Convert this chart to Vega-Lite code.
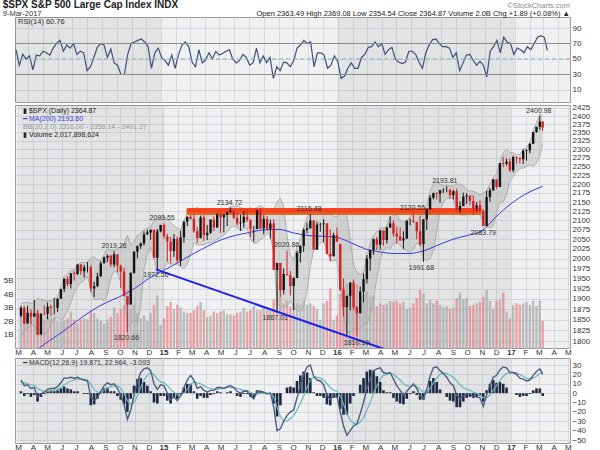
{
"$schema": "https://vega.github.io/schema/vega-lite/v6.json",
"padding": {"left": 2, "top": 0, "right": 2, "bottom": 0},
"background": "#ffffff",
"config": {
  "font": "Liberation Sans",
  "view": {"stroke": "#9a9a9a", "fill": "#f0f0f0"},
  "axis": {"labelFont": "Liberation Sans", "labelFontSize": 8, "labelColor": "#333333", "gridColor": "#d3d8e2", "ticks": false, "domain": false, "labelPadding": 2},
  "axisY": {"labelOverlap": false},
  "concat": {"spacing": 0}
},
"title": {"text": "$SPX S&P 500 Large Cap Index INDX", "subtitle": "9-Mar-2017", "anchor": "start", "frame": "bounds", "fontSize": 10, "fontWeight": "bold", "color": "#222222", "subtitleFontSize": 7.5, "subtitleColor": "#333333", "subtitlePadding": 0, "offset": -16},
"datasets": {
"yr": [{"s": "2014-03-05", "e": "2015-01-01"}, {"s": "2016-01-01", "e": "2017-01-01"}],
"ma": [
{"d":"2014-03-07","ma":1745},{"d":"2014-04-01","ma":1772},{"d":"2014-05-01","ma":1797},{"d":"2014-06-01","ma":1820},{"d":"2014-07-01","ma":1845},{"d":"2014-08-01","ma":1870},{"d":"2014-09-01","ma":1890},{"d":"2014-10-01","ma":1905},{"d":"2014-11-01","ma":1925},{"d":"2014-12-01","ma":1950},
{"d":"2015-01-01","ma":1970},{"d":"2015-02-01","ma":1990},{"d":"2015-03-01","ma":2010},{"d":"2015-04-01","ma":2030},{"d":"2015-05-01","ma":2048},{"d":"2015-06-01","ma":2060},{"d":"2015-07-01","ma":2068},{"d":"2015-08-01","ma":2075},{"d":"2015-09-01","ma":2076},{"d":"2015-10-01","ma":2067},{"d":"2015-11-01","ma":2060},{"d":"2015-12-01","ma":2058},
{"d":"2016-01-01","ma":2055},{"d":"2016-02-01","ma":2040},{"d":"2016-03-01","ma":2025},{"d":"2016-04-01","ma":2017},{"d":"2016-05-01","ma":2013},{"d":"2016-06-01","ma":2013},{"d":"2016-07-01","ma":2020},{"d":"2016-08-01","ma":2035},{"d":"2016-09-01","ma":2050},{"d":"2016-10-01","ma":2060},{"d":"2016-11-01","ma":2072},{"d":"2016-12-01","ma":2110},
{"d":"2017-01-01","ma":2145},{"d":"2017-02-01","ma":2172},{"d":"2017-03-09","ma":2193.6}],
"tl": [{"d": "2014-12-16", "p": 1972.56}, {"d": "2016-06-28", "p": 1752}],
"band": [{"a": "2015-02-19", "b": "2016-10-31", "lo": 2115, "hi": 2134, "lo2": 2121, "hi2": 2133}],
"ann": [
{"d":"2014-09-19","p":2019.26,"t":"2019.26","k":"h"},
{"d":"2014-12-29","p":2093.55,"t":"2093.55","k":"h"},
{"d":"2015-05-20","p":2134.72,"t":"2134.72","k":"h"},
{"d":"2015-09-17","p":2020.86,"t":"2020.86","k":"h"},
{"d":"2015-11-03","p":2116.48,"t":"2116.48","k":"h"},
{"d":"2016-06-08","p":2120.55,"t":"2120.55","k":"h"},
{"d":"2016-08-15","p":2193.81,"t":"2193.81","k":"h"},
{"d":"2017-03-01","p":2400.98,"t":"2400.98","k":"h"},
{"d":"2014-10-15","p":1820.66,"t":"1820.66","k":"l"},
{"d":"2014-12-16","p":1972.56,"t":"1972.56","k":"l"},
{"d":"2015-08-24","p":1867.01,"t":"1867.01","k":"l"},
{"d":"2016-02-11","p":1810.10,"t":"1810.10","k":"l"},
{"d":"2016-06-27","p":1991.68,"t":"1991.68","k":"l"},
{"d":"2016-11-04","p":2083.79,"t":"2083.79","k":"l"}],
"w": [
{"d":"2014-03-07","o":1859,"hi":1883,"lo":1855,"c":1878,"v":2.4,"bu":1890,"bl":1810,"r":62,"m":14,"s":12,"hs":2},
{"d":"2014-03-14","o":1878,"hi":1882,"lo":1839,"c":1841,"v":2.5,"bu":1890,"bl":1825,"r":42,"m":8,"s":11,"hs":-3},
{"d":"2014-03-21","o":1841,"hi":1883,"lo":1840,"c":1866,"v":2.8,"bu":1892,"bl":1830,"r":56,"m":9,"s":10,"hs":-1},
{"d":"2014-03-28","o":1866,"hi":1875,"lo":1839,"c":1857,"v":2.3,"bu":1888,"bl":1835,"r":50,"m":5,"s":9,"hs":-4},
{"d":"2014-04-04","o":1857,"hi":1897,"lo":1857,"c":1865,"v":2.4,"bu":1892,"bl":1838,"r":54,"m":6,"s":8,"hs":-2},
{"d":"2014-04-11","o":1865,"hi":1873,"lo":1814,"c":1815,"v":2.8,"bu":1900,"bl":1815,"r":36,"m":-4,"s":5,"hs":-9},
{"d":"2014-04-18","o":1815,"hi":1865,"lo":1815,"c":1864,"v":2.2,"bu":1898,"bl":1812,"r":55,"m":-1,"s":3,"hs":-4},
{"d":"2014-04-25","o":1864,"hi":1884,"lo":1860,"c":1863,"v":2.1,"bu":1895,"bl":1815,"r":54,"m":1,"s":2,"hs":-1},
{"d":"2014-05-02","o":1863,"hi":1891,"lo":1851,"c":1881,"v":2.3,"bu":1895,"bl":1820,"r":60,"m":4,"s":2,"hs":2},
{"d":"2014-05-09","o":1881,"hi":1885,"lo":1859,"c":1878,"v":2.2,"bu":1895,"bl":1840,"r":58,"m":5,"s":3,"hs":2},
{"d":"2014-05-16","o":1878,"hi":1902,"lo":1862,"c":1878,"v":2.3,"bu":1900,"bl":1850,"r":55,"m":5,"s":3,"hs":2},
{"d":"2014-05-23","o":1878,"hi":1901,"lo":1868,"c":1900,"v":2.0,"bu":1905,"bl":1855,"r":64,"m":7,"s":4,"hs":3},
{"d":"2014-05-30","o":1900,"hi":1924,"lo":1900,"c":1924,"v":2.0,"bu":1930,"bl":1850,"r":70,"m":11,"s":6,"hs":5},
{"d":"2014-06-06","o":1924,"hi":1950,"lo":1916,"c":1949,"v":2.1,"bu":1955,"bl":1855,"r":74,"m":16,"s":9,"hs":7},
{"d":"2014-06-13","o":1949,"hi":1955,"lo":1930,"c":1936,"v":2.2,"bu":1962,"bl":1870,"r":60,"m":16,"s":11,"hs":5},
{"d":"2014-06-20","o":1936,"hi":1963,"lo":1925,"c":1963,"v":2.7,"bu":1970,"bl":1890,"r":68,"m":17,"s":13,"hs":4},
{"d":"2014-06-27","o":1963,"hi":1968,"lo":1944,"c":1961,"v":2.1,"bu":1972,"bl":1915,"r":64,"m":16,"s":14,"hs":2},
{"d":"2014-07-04","o":1961,"hi":1985,"lo":1958,"c":1985,"v":1.8,"bu":1985,"bl":1930,"r":70,"m":17,"s":15,"hs":2},
{"d":"2014-07-11","o":1985,"hi":1986,"lo":1959,"c":1968,"v":2.1,"bu":1990,"bl":1940,"r":56,"m":15,"s":15,"hs":0},
{"d":"2014-07-18","o":1968,"hi":1984,"lo":1952,"c":1978,"v":2.2,"bu":1990,"bl":1945,"r":60,"m":14,"s":15,"hs":-1},
{"d":"2014-07-25","o":1978,"hi":1991,"lo":1965,"c":1978,"v":2.1,"bu":1992,"bl":1955,"r":58,"m":13,"s":14,"hs":-1},
{"d":"2014-08-01","o":1978,"hi":1983,"lo":1916,"c":1925,"v":2.8,"bu":2000,"bl":1925,"r":35,"m":-4,"s":9,"hs":-13},
{"d":"2014-08-08","o":1925,"hi":1942,"lo":1904,"c":1931,"v":2.6,"bu":2005,"bl":1898,"r":40,"m":-8,"s":4,"hs":-12},
{"d":"2014-08-15","o":1931,"hi":1964,"lo":1928,"c":1955,"v":2.2,"bu":1995,"bl":1898,"r":52,"m":-5,"s":1,"hs":-6},
{"d":"2014-08-22","o":1955,"hi":1993,"lo":1955,"c":1988,"v":2.0,"bu":1995,"bl":1900,"r":65,"m":2,"s":1,"hs":1},
{"d":"2014-08-29","o":1988,"hi":2005,"lo":1988,"c":2003,"v":1.8,"bu":2012,"bl":1895,"r":70,"m":8,"s":3,"hs":5},
{"d":"2014-09-05","o":2003,"hi":2011,"lo":1991,"c":2007,"v":2.1,"bu":2025,"bl":1910,"r":68,"m":11,"s":5,"hs":6},
{"d":"2014-09-12","o":2007,"hi":2010,"lo":1979,"c":1985,"v":2.3,"bu":2022,"bl":1950,"r":52,"m":9,"s":7,"hs":2},
{"d":"2014-09-19","o":1985,"hi":2019,"lo":1978,"c":2011,"v":3.0,"bu":2022,"bl":1970,"r":63,"m":10,"s":8,"hs":2},
{"d":"2014-09-26","o":2011,"hi":2011,"lo":1965,"c":1982,"v":2.6,"bu":2025,"bl":1965,"r":45,"m":5,"s":8,"hs":-3},
{"d":"2014-10-03","o":1982,"hi":1985,"lo":1926,"c":1967,"v":2.9,"bu":2030,"bl":1940,"r":42,"m":-2,"s":5,"hs":-7},
{"d":"2014-10-10","o":1967,"hi":1977,"lo":1906,"c":1906,"v":3.2,"bu":2040,"bl":1910,"r":30,"m":-12,"s":0,"hs":-12},
{"d":"2014-10-17","o":1906,"hi":1906,"lo":1820,"c":1886,"v":4.3,"bu":2060,"bl":1830,"r":30,"m":-28,"s":-8,"hs":-20},
{"d":"2014-10-24","o":1886,"hi":1965,"lo":1886,"c":1964,"v":2.9,"bu":2035,"bl":1840,"r":56,"m":-18,"s":-12,"hs":-6},
{"d":"2014-10-31","o":1964,"hi":2018,"lo":1961,"c":2018,"v":3.2,"bu":2045,"bl":1850,"r":70,"m":-2,"s":-10,"hs":8},
{"d":"2014-11-07","o":2018,"hi":2034,"lo":2001,"c":2032,"v":2.6,"bu":2060,"bl":1845,"r":72,"m":12,"s":-3,"hs":15},
{"d":"2014-11-14","o":2032,"hi":2041,"lo":2025,"c":2039,"v":2.2,"bu":2065,"bl":1880,"r":74,"m":22,"s":6,"hs":16},
{"d":"2014-11-21","o":2039,"hi":2071,"lo":2034,"c":2063,"v":2.4,"bu":2075,"bl":1975,"r":76,"m":26,"s":14,"hs":12},
{"d":"2014-11-28","o":2063,"hi":2075,"lo":2062,"c":2068,"v":2.0,"bu":2080,"bl":2010,"r":72,"m":27,"s":19,"hs":8},
{"d":"2014-12-05","o":2068,"hi":2076,"lo":2049,"c":2075,"v":2.6,"bu":2082,"bl":2030,"r":66,"m":24,"s":22,"hs":2},
{"d":"2014-12-12","o":2075,"hi":2075,"lo":2002,"c":2002,"v":3.2,"bu":2100,"bl":2000,"r":38,"m":10,"s":20,"hs":-10},
{"d":"2014-12-19","o":2002,"hi":2077,"lo":1972,"c":2071,"v":3.9,"bu":2105,"bl":1965,"r":58,"m":4,"s":15,"hs":-11},
{"d":"2014-12-26","o":2071,"hi":2088,"lo":2068,"c":2088,"v":1.7,"bu":2110,"bl":1975,"r":64,"m":9,"s":12,"hs":-3},
{"d":"2015-01-02","o":2088,"hi":2093,"lo":2051,"c":2058,"v":2.2,"bu":2110,"bl":1975,"r":52,"m":8,"s":11,"hs":-3},
{"d":"2015-01-09","o":2058,"hi":2064,"lo":1992,"c":2044,"v":3.1,"bu":2105,"bl":1990,"r":48,"m":0,"s":8,"hs":-8},
{"d":"2015-01-16","o":2044,"hi":2056,"lo":1988,"c":2019,"v":3.4,"bu":2095,"bl":1985,"r":42,"m":-7,"s":4,"hs":-11},
{"d":"2015-01-23","o":2019,"hi":2064,"lo":2004,"c":2051,"v":2.9,"bu":2085,"bl":1990,"r":55,"m":-4,"s":1,"hs":-5},
{"d":"2015-01-30","o":2051,"hi":2057,"lo":1989,"c":1995,"v":3.2,"bu":2080,"bl":1985,"r":38,"m":-8,"s":-2,"hs":-6},
{"d":"2015-02-06","o":1995,"hi":2072,"lo":1981,"c":2055,"v":3.0,"bu":2075,"bl":1980,"r":56,"m":-3,"s":-2,"hs":-1},
{"d":"2015-02-13","o":2055,"hi":2097,"lo":2041,"c":2097,"v":2.7,"bu":2100,"bl":1975,"r":68,"m":6,"s":0,"hs":6},
{"d":"2015-02-20","o":2097,"hi":2110,"lo":2085,"c":2110,"v":2.6,"bu":2120,"bl":1985,"r":72,"m":14,"s":4,"hs":10},
{"d":"2015-02-27","o":2110,"hi":2115,"lo":2103,"c":2104,"v":2.6,"bu":2130,"bl":2010,"r":66,"m":19,"s":9,"hs":10},
{"d":"2015-03-06","o":2104,"hi":2117,"lo":2067,"c":2071,"v":2.8,"bu":2130,"bl":2040,"r":46,"m":14,"s":12,"hs":2},
{"d":"2015-03-13","o":2071,"hi":2083,"lo":2040,"c":2053,"v":3.1,"bu":2135,"bl":2035,"r":40,"m":5,"s":11,"hs":-6},
{"d":"2015-03-20","o":2053,"hi":2113,"lo":2053,"c":2108,"v":3.4,"bu":2130,"bl":2035,"r":62,"m":7,"s":10,"hs":-3},
{"d":"2015-03-27","o":2108,"hi":2114,"lo":2045,"c":2061,"v":2.8,"bu":2125,"bl":2035,"r":45,"m":3,"s":8,"hs":-5},
{"d":"2015-04-03","o":2061,"hi":2088,"lo":2048,"c":2067,"v":2.3,"bu":2120,"bl":2040,"r":49,"m":1,"s":6,"hs":-5},
{"d":"2015-04-10","o":2067,"hi":2103,"lo":2064,"c":2102,"v":2.4,"bu":2120,"bl":2040,"r":58,"m":3,"s":5,"hs":-2},
{"d":"2015-04-17","o":2102,"hi":2111,"lo":2072,"c":2081,"v":2.7,"bu":2115,"bl":2045,"r":50,"m":3,"s":4,"hs":-1},
{"d":"2015-04-24","o":2081,"hi":2120,"lo":2081,"c":2117,"v":2.6,"bu":2125,"bl":2050,"r":60,"m":6,"s":4,"hs":2},
{"d":"2015-05-01","o":2117,"hi":2125,"lo":2067,"c":2108,"v":2.7,"bu":2130,"bl":2055,"r":55,"m":6,"s":5,"hs":1},
{"d":"2015-05-08","o":2108,"hi":2117,"lo":2068,"c":2116,"v":2.8,"bu":2130,"bl":2060,"r":57,"m":5,"s":5,"hs":0},
{"d":"2015-05-15","o":2116,"hi":2123,"lo":2085,"c":2123,"v":2.5,"bu":2130,"bl":2070,"r":60,"m":7,"s":6,"hs":1},
{"d":"2015-05-22","o":2123,"hi":2135,"lo":2120,"c":2126,"v":2.5,"bu":2138,"bl":2080,"r":62,"m":8,"s":6,"hs":2},
{"d":"2015-05-29","o":2126,"hi":2127,"lo":2104,"c":2107,"v":2.4,"bu":2138,"bl":2085,"r":50,"m":6,"s":6,"hs":0},
{"d":"2015-06-05","o":2107,"hi":2121,"lo":2086,"c":2092,"v":2.6,"bu":2140,"bl":2080,"r":45,"m":2,"s":5,"hs":-3},
{"d":"2015-06-12","o":2092,"hi":2115,"lo":2072,"c":2094,"v":2.7,"bu":2135,"bl":2075,"r":48,"m":0,"s":4,"hs":-4},
{"d":"2015-06-19","o":2094,"hi":2126,"lo":2081,"c":2110,"v":3.0,"bu":2130,"bl":2078,"r":56,"m":2,"s":3,"hs":-1},
{"d":"2015-06-26","o":2110,"hi":2130,"lo":2096,"c":2102,"v":2.7,"bu":2130,"bl":2080,"r":52,"m":2,"s":3,"hs":-1},
{"d":"2015-07-03","o":2102,"hi":2102,"lo":2056,"c":2077,"v":2.8,"bu":2135,"bl":2050,"r":42,"m":-3,"s":1,"hs":-4},
{"d":"2015-07-10","o":2077,"hi":2085,"lo":2044,"c":2077,"v":3.1,"bu":2130,"bl":2040,"r":45,"m":-6,"s":-1,"hs":-5},
{"d":"2015-07-17","o":2077,"hi":2129,"lo":2077,"c":2127,"v":2.8,"bu":2135,"bl":2040,"r":64,"m":2,"s":-1,"hs":3},
{"d":"2015-07-24","o":2127,"hi":2132,"lo":2077,"c":2079,"v":2.8,"bu":2140,"bl":2050,"r":45,"m":2,"s":0,"hs":2},
{"d":"2015-07-31","o":2079,"hi":2114,"lo":2063,"c":2104,"v":3.0,"bu":2135,"bl":2055,"r":54,"m":1,"s":0,"hs":1},
{"d":"2015-08-07","o":2104,"hi":2112,"lo":2073,"c":2078,"v":2.8,"bu":2125,"bl":2065,"r":45,"m":-1,"s":0,"hs":-1},
{"d":"2015-08-14","o":2078,"hi":2102,"lo":2052,"c":2092,"v":2.8,"bu":2120,"bl":2060,"r":52,"m":0,"s":0,"hs":0},
{"d":"2015-08-21","o":2092,"hi":2103,"lo":1971,"c":1971,"v":3.6,"bu":2130,"bl":2015,"r":25,"m":-15,"s":-4,"hs":-11},
{"d":"2015-08-28","o":1971,"hi":1989,"lo":1867,"c":1989,"v":4.6,"bu":2150,"bl":1890,"r":40,"m":-40,"s":-15,"hs":-25},
{"d":"2015-09-04","o":1989,"hi":1989,"lo":1903,"c":1921,"v":3.7,"bu":2160,"bl":1880,"r":35,"m":-38,"s":-25,"hs":-13},
{"d":"2015-09-11","o":1921,"hi":1975,"lo":1910,"c":1961,"v":3.3,"bu":2140,"bl":1880,"r":46,"m":-30,"s":-30,"hs":0},
{"d":"2015-09-18","o":1961,"hi":2021,"lo":1958,"c":1958,"v":3.5,"bu":2060,"bl":1880,"r":45,"m":-24,"s":-30,"hs":6},
{"d":"2015-09-25","o":1958,"hi":1969,"lo":1908,"c":1931,"v":3.1,"bu":2010,"bl":1895,"r":40,"m":-20,"s":-27,"hs":7},
{"d":"2015-10-02","o":1931,"hi":1953,"lo":1872,"c":1951,"v":3.3,"bu":1995,"bl":1880,"r":48,"m":-18,"s":-24,"hs":6},
{"d":"2015-10-09","o":1951,"hi":2020,"lo":1951,"c":2015,"v":3.3,"bu":2030,"bl":1870,"r":64,"m":-5,"s":-18,"hs":13},
{"d":"2015-10-16","o":2015,"hi":2034,"lo":1990,"c":2033,"v":3.2,"bu":2050,"bl":1870,"r":68,"m":8,"s":-11,"hs":19},
{"d":"2015-10-23","o":2033,"hi":2079,"lo":2017,"c":2075,"v":3.5,"bu":2080,"bl":1880,"r":74,"m":20,"s":-3,"hs":23},
{"d":"2015-10-30","o":2075,"hi":2094,"lo":2066,"c":2079,"v":3.2,"bu":2110,"bl":1920,"r":70,"m":28,"s":6,"hs":22},
{"d":"2015-11-06","o":2079,"hi":2117,"lo":2078,"c":2100,"v":3.3,"bu":2120,"bl":1980,"r":72,"m":30,"s":14,"hs":16},
{"d":"2015-11-13","o":2100,"hi":2100,"lo":2023,"c":2023,"v":3.1,"bu":2125,"bl":2020,"r":40,"m":18,"s":17,"hs":1},
{"d":"2015-11-20","o":2023,"hi":2097,"lo":2023,"c":2089,"v":2.9,"bu":2125,"bl":2030,"r":58,"m":14,"s":17,"hs":-3},
{"d":"2015-11-27","o":2089,"hi":2094,"lo":2070,"c":2090,"v":2.1,"bu":2120,"bl":2040,"r":58,"m":13,"s":16,"hs":-3},
{"d":"2015-12-04","o":2090,"hi":2104,"lo":2042,"c":2092,"v":3.3,"bu":2115,"bl":2045,"r":55,"m":9,"s":14,"hs":-5},
{"d":"2015-12-11","o":2092,"hi":2093,"lo":2011,"c":2012,"v":3.5,"bu":2120,"bl":2020,"r":38,"m":-2,"s":10,"hs":-12},
{"d":"2015-12-18","o":2012,"hi":2076,"lo":1993,"c":2006,"v":4.4,"bu":2125,"bl":1995,"r":42,"m":-7,"s":6,"hs":-13},
{"d":"2015-12-25","o":2006,"hi":2067,"lo":2006,"c":2061,"v":2.1,"bu":2110,"bl":1995,"r":54,"m":-2,"s":3,"hs":-5},
{"d":"2016-01-01","o":2061,"hi":2081,"lo":2044,"c":2044,"v":2.4,"bu":2110,"bl":1995,"r":47,"m":-3,"s":2,"hs":-5},
{"d":"2016-01-08","o":2038,"hi":2038,"lo":1918,"c":1922,"v":4.0,"bu":2120,"bl":1940,"r":25,"m":-20,"s":-3,"hs":-17},
{"d":"2016-01-15","o":1922,"hi":1950,"lo":1857,"c":1880,"v":4.5,"bu":2130,"bl":1860,"r":28,"m":-35,"s":-12,"hs":-23},
{"d":"2016-01-22","o":1880,"hi":1908,"lo":1812,"c":1907,"v":4.8,"bu":2115,"bl":1820,"r":38,"m":-45,"s":-22,"hs":-23},
{"d":"2016-01-29","o":1907,"hi":1940,"lo":1872,"c":1940,"v":4.3,"bu":2050,"bl":1820,"r":45,"m":-40,"s":-29,"hs":-11},
{"d":"2016-02-05","o":1940,"hi":1947,"lo":1872,"c":1880,"v":4.4,"bu":1985,"bl":1830,"r":38,"m":-35,"s":-32,"hs":-3},
{"d":"2016-02-12","o":1880,"hi":1882,"lo":1810,"c":1865,"v":4.7,"bu":1965,"bl":1825,"r":38,"m":-33,"s":-33,"hs":0},
{"d":"2016-02-19","o":1865,"hi":1930,"lo":1865,"c":1918,"v":3.9,"bu":1960,"bl":1830,"r":52,"m":-22,"s":-31,"hs":9},
{"d":"2016-02-26","o":1918,"hi":1962,"lo":1891,"c":1948,"v":3.9,"bu":1965,"bl":1840,"r":56,"m":-10,"s":-26,"hs":16},
{"d":"2016-03-04","o":1948,"hi":2009,"lo":1937,"c":2000,"v":4.2,"bu":2005,"bl":1840,"r":65,"m":5,"s":-18,"hs":23},
{"d":"2016-03-11","o":2000,"hi":2022,"lo":1969,"c":2022,"v":3.8,"bu":2040,"bl":1860,"r":66,"m":15,"s":-10,"hs":25},
{"d":"2016-03-18","o":2022,"hi":2052,"lo":2010,"c":2050,"v":3.9,"bu":2060,"bl":1900,"r":72,"m":24,"s":0,"hs":24},
{"d":"2016-03-25","o":2050,"hi":2056,"lo":2022,"c":2036,"v":3.1,"bu":2070,"bl":1950,"r":66,"m":26,"s":8,"hs":18},
{"d":"2016-04-01","o":2036,"hi":2075,"lo":2023,"c":2073,"v":3.3,"bu":2080,"bl":2000,"r":70,"m":27,"s":15,"hs":12},
{"d":"2016-04-08","o":2073,"hi":2073,"lo":2033,"c":2048,"v":3.2,"bu":2080,"bl":2020,"r":56,"m":22,"s":19,"hs":3},
{"d":"2016-04-15","o":2048,"hi":2083,"lo":2039,"c":2081,"v":3.3,"bu":2085,"bl":2030,"r":62,"m":21,"s":20,"hs":1},
{"d":"2016-04-22","o":2081,"hi":2111,"lo":2080,"c":2092,"v":3.5,"bu":2110,"bl":2025,"r":65,"m":22,"s":21,"hs":1},
{"d":"2016-04-29","o":2092,"hi":2100,"lo":2057,"c":2065,"v":3.4,"bu":2115,"bl":2040,"r":50,"m":15,"s":20,"hs":-5},
{"d":"2016-05-06","o":2065,"hi":2084,"lo":2039,"c":2057,"v":3.5,"bu":2115,"bl":2040,"r":46,"m":8,"s":17,"hs":-9},
{"d":"2016-05-13","o":2057,"hi":2081,"lo":2046,"c":2047,"v":3.3,"bu":2100,"bl":2035,"r":44,"m":3,"s":14,"hs":-11},
{"d":"2016-05-20","o":2047,"hi":2071,"lo":2025,"c":2052,"v":3.4,"bu":2095,"bl":2025,"r":46,"m":-2,"s":10,"hs":-12},
{"d":"2016-05-27","o":2052,"hi":2100,"lo":2052,"c":2099,"v":2.9,"bu":2100,"bl":2020,"r":60,"m":2,"s":8,"hs":-6},
{"d":"2016-06-03","o":2099,"hi":2105,"lo":2087,"c":2099,"v":3.0,"bu":2110,"bl":2015,"r":60,"m":6,"s":7,"hs":-1},
{"d":"2016-06-10","o":2099,"hi":2121,"lo":2094,"c":2096,"v":3.3,"bu":2120,"bl":2025,"r":56,"m":10,"s":8,"hs":2},
{"d":"2016-06-17","o":2096,"hi":2096,"lo":2050,"c":2071,"v":3.7,"bu":2125,"bl":2040,"r":46,"m":5,"s":7,"hs":-2},
{"d":"2016-06-24","o":2071,"hi":2113,"lo":2032,"c":2037,"v":4.3,"bu":2125,"bl":2035,"r":38,"m":-3,"s":4,"hs":-7},
{"d":"2016-07-01","o":2037,"hi":2103,"lo":1992,"c":2103,"v":4.0,"bu":2130,"bl":2000,"r":58,"m":-6,"s":1,"hs":-7},
{"d":"2016-07-08","o":2103,"hi":2132,"lo":2075,"c":2130,"v":3.3,"bu":2140,"bl":1995,"r":68,"m":4,"s":1,"hs":3},
{"d":"2016-07-15","o":2130,"hi":2169,"lo":2130,"c":2162,"v":3.6,"bu":2180,"bl":2000,"r":75,"m":18,"s":5,"hs":13},
{"d":"2016-07-22","o":2162,"hi":2176,"lo":2157,"c":2175,"v":3.3,"bu":2200,"bl":2020,"r":76,"m":27,"s":11,"hs":16},
{"d":"2016-07-29","o":2175,"hi":2177,"lo":2157,"c":2173,"v":3.5,"bu":2210,"bl":2070,"r":70,"m":28,"s":16,"hs":12},
{"d":"2016-08-05","o":2173,"hi":2183,"lo":2148,"c":2183,"v":3.2,"bu":2200,"bl":2125,"r":66,"m":24,"s":20,"hs":4},
{"d":"2016-08-12","o":2183,"hi":2188,"lo":2175,"c":2184,"v":3.0,"bu":2195,"bl":2150,"r":66,"m":21,"s":21,"hs":0},
{"d":"2016-08-19","o":2184,"hi":2194,"lo":2177,"c":2184,"v":3.1,"bu":2198,"bl":2160,"r":64,"m":17,"s":21,"hs":-4},
{"d":"2016-08-26","o":2184,"hi":2187,"lo":2160,"c":2169,"v":2.9,"bu":2195,"bl":2160,"r":52,"m":11,"s":19,"hs":-8},
{"d":"2016-09-02","o":2169,"hi":2184,"lo":2157,"c":2180,"v":3.0,"bu":2195,"bl":2160,"r":58,"m":8,"s":17,"hs":-9},
{"d":"2016-09-09","o":2180,"hi":2187,"lo":2127,"c":2128,"v":3.7,"bu":2200,"bl":2130,"r":35,"m":-2,"s":13,"hs":-15},
{"d":"2016-09-16","o":2128,"hi":2152,"lo":2120,"c":2139,"v":4.1,"bu":2200,"bl":2115,"r":45,"m":-6,"s":9,"hs":-15},
{"d":"2016-09-23","o":2139,"hi":2176,"lo":2139,"c":2165,"v":3.6,"bu":2195,"bl":2115,"r":55,"m":-3,"s":6,"hs":-9},
{"d":"2016-09-30","o":2165,"hi":2175,"lo":2145,"c":2168,"v":3.7,"bu":2185,"bl":2115,"r":56,"m":-1,"s":4,"hs":-5},
{"d":"2016-10-07","o":2168,"hi":2169,"lo":2142,"c":2153,"v":3.1,"bu":2180,"bl":2125,"r":48,"m":-1,"s":3,"hs":-4},
{"d":"2016-10-14","o":2153,"hi":2169,"lo":2115,"c":2133,"v":3.2,"bu":2180,"bl":2125,"r":42,"m":-4,"s":1,"hs":-5},
{"d":"2016-10-21","o":2133,"hi":2150,"lo":2124,"c":2141,"v":3.3,"bu":2175,"bl":2125,"r":47,"m":-4,"s":0,"hs":-4},
{"d":"2016-10-28","o":2141,"hi":2155,"lo":2125,"c":2126,"v":3.4,"bu":2170,"bl":2120,"r":42,"m":-5,"s":-2,"hs":-3},
{"d":"2016-11-04","o":2126,"hi":2131,"lo":2084,"c":2085,"v":3.8,"bu":2175,"bl":2090,"r":27,"m":-14,"s":-5,"hs":-9},
{"d":"2016-11-11","o":2085,"hi":2182,"lo":2085,"c":2164,"v":4.3,"bu":2180,"bl":2085,"r":60,"m":-2,"s":-5,"hs":3},
{"d":"2016-11-18","o":2164,"hi":2189,"lo":2151,"c":2182,"v":3.5,"bu":2200,"bl":2080,"r":66,"m":8,"s":-2,"hs":10},
{"d":"2016-11-25","o":2182,"hi":2214,"lo":2182,"c":2213,"v":2.9,"bu":2220,"bl":2085,"r":74,"m":17,"s":3,"hs":14},
{"d":"2016-12-02","o":2213,"hi":2214,"lo":2187,"c":2192,"v":3.5,"bu":2230,"bl":2120,"r":58,"m":19,"s":8,"hs":11},
{"d":"2016-12-09","o":2192,"hi":2260,"lo":2192,"c":2260,"v":3.6,"bu":2260,"bl":2150,"r":78,"m":25,"s":13,"hs":12},
{"d":"2016-12-16","o":2260,"hi":2278,"lo":2248,"c":2258,"v":4.1,"bu":2290,"bl":2150,"r":72,"m":28,"s":18,"hs":10},
{"d":"2016-12-23","o":2258,"hi":2273,"lo":2253,"c":2264,"v":2.7,"bu":2300,"bl":2170,"r":70,"m":27,"s":21,"hs":6},
{"d":"2016-12-30","o":2264,"hi":2273,"lo":2234,"c":2239,"v":2.2,"bu":2290,"bl":2210,"r":56,"m":22,"s":22,"hs":0},
{"d":"2017-01-06","o":2239,"hi":2282,"lo":2233,"c":2277,"v":3.2,"bu":2290,"bl":2220,"r":64,"m":22,"s":22,"hs":0},
{"d":"2017-01-13","o":2277,"hi":2279,"lo":2258,"c":2275,"v":3.3,"bu":2285,"bl":2235,"r":62,"m":20,"s":22,"hs":-2},
{"d":"2017-01-20","o":2275,"hi":2276,"lo":2259,"c":2271,"v":3.2,"bu":2285,"bl":2245,"r":58,"m":16,"s":20,"hs":-4},
{"d":"2017-01-27","o":2271,"hi":2300,"lo":2257,"c":2295,"v":3.3,"bu":2300,"bl":2245,"r":66,"m":15,"s":18,"hs":-3},
{"d":"2017-02-03","o":2295,"hi":2300,"lo":2267,"c":2297,"v":3.4,"bu":2305,"bl":2250,"r":62,"m":13,"s":16,"hs":-3},
{"d":"2017-02-10","o":2297,"hi":2319,"lo":2288,"c":2316,"v":3.2,"bu":2320,"bl":2255,"r":70,"m":14,"s":15,"hs":-1},
{"d":"2017-02-17","o":2316,"hi":2352,"lo":2316,"c":2351,"v":3.5,"bu":2355,"bl":2250,"r":78,"m":19,"s":16,"hs":3},
{"d":"2017-02-24","o":2351,"hi":2367,"lo":2349,"c":2367,"v":3.1,"bu":2380,"bl":2260,"r":80,"m":23,"s":18,"hs":5},
{"d":"2017-03-03","o":2367,"hi":2401,"lo":2358,"c":2383,"v":3.5,"bu":2405,"bl":2280,"r":78,"m":26,"s":21,"hs":5},
{"d":"2017-03-09","o":2383,"hi":2383,"lo":2354,"c":2365,"v":2.0,"bu":2401,"bl":2316,"r":61,"m":20,"s":23,"hs":-3}
]
},
"vconcat": [
{
  "width": 555, "height": 85,
  "title": {"text": "©StockCharts.com", "subtitle": "Open 2363.49  High 2369.08  Low 2354.54  Close 2364.87  Volume 2.0B  Chg +1.89 (+0.08%) ▲", "anchor": "end", "frame": "group", "fontSize": 7.5, "fontWeight": "normal", "color": "#888888", "subtitleFontSize": 7.5, "subtitleColor": "#222222", "subtitlePadding": 0, "offset": 0},
  "layer": [
    {"data": {"name": "yr"}, "mark": {"type": "rect", "fill": "#000000", "opacity": 0.05},
     "encoding": {
       "x": {"field": "s", "type": "temporal", "title": null, "scale": {"domain": [{"year": 2014, "month": 3, "date": 5}, {"year": 2017, "month": 4, "date": 25}], "nice": false},
             "axis": {"title": null, "labels": false, "ticks": false, "domain": false, "grid": true, "tickCount": {"interval": "month", "step": 1}}},
       "x2": {"field": "e"}}},
    {"data": {"name": "w"}, "mark": {"type": "line", "color": "#3f4f7a", "strokeWidth": 1.2},
     "encoding": {"x": {"field": "d", "type": "temporal", "title": null},
       "y": {"field": "r", "type": "quantitative", "title": null, "scale": {"domain": [-5.5, 104.2], "nice": false, "zero": false},
         "axis": {"orient": "right", "values": [10, 30, 50, 70, 90], "labelOverlap": false, "labelBound": false, "grid": true, "title": null}}}},
    {"data": {"values": [{"k": 70}, {"k": 30}]}, "mark": {"type": "rule", "color": "#8c8c8c", "strokeWidth": 1},
     "encoding": {"y": {"field": "k", "type": "quantitative", "title": null,
       "axis": {"orient": "right", "values": [10, 30, 50, 70, 90], "labelOverlap": false, "labelBound": false, "grid": true, "title": null}}}},
    {"data": {"values": [{"k": 50}]}, "mark": {"type": "rule", "color": "#7fb8b8", "strokeDash": [4, 3], "strokeWidth": 1},
     "encoding": {"y": {"field": "k", "type": "quantitative", "title": null,
       "axis": {"orient": "right", "values": [10, 30, 50, 70, 90], "labelOverlap": false, "labelBound": false, "grid": true, "title": null}}}},
    {"data": {"values": [{"t": "RSI(14) 60.76"}]}, "mark": {"type": "text", "align": "left", "baseline": "top", "fontSize": 7.5, "color": "#333333", "dx": 3, "dy": 1},
     "encoding": {"x": {"datum": {"year": 2014, "month": 3, "date": 5}, "type": "temporal"},
       "y": {"datum": 104.2, "type": "quantitative", "axis": {"orient": "right", "values": [10, 30, 50, 70, 90], "labelOverlap": false, "labelBound": false, "grid": true, "title": null}},
       "text": {"field": "t"}}}
  ]
},
{
  "width": 555, "height": 243,
  "layer": [
    {"data": {"name": "yr"}, "mark": {"type": "rect", "fill": "#000000", "opacity": 0.05},
     "encoding": {
       "x": {"field": "s", "type": "temporal", "title": null, "scale": {"domain": [{"year": 2014, "month": 3, "date": 5}, {"year": 2017, "month": 4, "date": 25}], "nice": false},
             "axis": {"title": null, "labels": true, "labelOverlap": false, "labelBound": false, "labelPadding": 0, "labelFontSize": 8,
                      "labelExpr": "month(datum.value) == 0 ? timeFormat(datum.value, '%y') : substring(timeFormat(datum.value, '%b'), 0, 1)",
                      "labelFontWeight": {"condition": {"test": "month(datum.value) == 0", "value": "bold"}, "value": "normal"},
                      "ticks": false, "domain": false, "grid": true, "tickCount": {"interval": "month", "step": 1}}},
       "x2": {"field": "e"}}},
    {"data": {"name": "w"}, "mark": {"type": "bar", "size": 2.4, "opacity": 0.65},
     "encoding": {
       "x": {"field": "d", "type": "temporal", "title": null},
       "y": {"field": "v", "type": "quantitative", "title": null, "scale": {"domain": [0, 18], "nice": false},
             "axis": {"orient": "left", "values": [1, 2, 3, 4, 5], "labelExpr": "datum.value + 'B'", "labelOverlap": false, "grid": false, "title": null}},
       "color": {"condition": {"test": "datum.c < datum.o", "value": "#e8767c"}, "value": "#a0a0a0"}}},
    {"layer": [
      {"data": {"name": "w"}, "mark": {"type": "area", "color": "#b5b5b5", "opacity": 0.45},
       "encoding": {
         "x": {"field": "d", "type": "temporal", "title": null},
         "y": {"field": "bl", "type": "quantitative", "title": null, "scale": {"type": "log", "domain": [1784, 2434], "nice": false, "zero": false},
               "axis": {"orient": "right", "values": [1800,1825,1850,1875,1900,1925,1950,1975,2000,2025,2050,2075,2100,2125,2150,2175,2200,2225,2250,2275,2300,2325,2350,2375,2400,2425], "format": "d", "labelOverlap": false, "grid": true, "title": null}},
         "y2": {"field": "bu"}}},
      {"data": {"name": "w"}, "mark": {"type": "line", "color": "#a3a3a3", "strokeWidth": 0.8},
       "encoding": {"x": {"field": "d", "type": "temporal", "title": null}, "y": {"field": "bu", "type": "quantitative", "title": null}}},
      {"data": {"name": "w"}, "mark": {"type": "line", "color": "#a3a3a3", "strokeWidth": 0.8},
       "encoding": {"x": {"field": "d", "type": "temporal", "title": null}, "y": {"field": "bl", "type": "quantitative", "title": null}}},
      {"data": {"name": "band"}, "mark": {"type": "rect", "color": "#d2691e", "opacity": 0.95},
       "encoding": {"x": {"field": "a", "type": "temporal", "title": null}, "x2": {"field": "b"}, "y": {"field": "lo", "type": "quantitative", "title": null}, "y2": {"field": "hi"}}},
      {"data": {"name": "band"}, "mark": {"type": "rect", "color": "#ff3a1e", "opacity": 0.9},
       "encoding": {"x": {"field": "a", "type": "temporal", "title": null}, "x2": {"field": "b"}, "y": {"field": "lo2", "type": "quantitative", "title": null}, "y2": {"field": "hi2"}}},
      {"data": {"name": "ma"}, "mark": {"type": "line", "color": "#3a3ad6", "strokeWidth": 1, "interpolate": "monotone", "clip": true},
       "encoding": {"x": {"field": "d", "type": "temporal", "title": null}, "y": {"field": "ma", "type": "quantitative", "title": null}}},
      {"data": {"name": "w"}, "mark": {"type": "rule", "strokeWidth": 1},
       "encoding": {"x": {"field": "d", "type": "temporal", "title": null}, "y": {"field": "lo", "type": "quantitative", "title": null}, "y2": {"field": "hi"},
         "color": {"condition": {"test": "datum.c < datum.o", "value": "#d42020"}, "value": "#151515"}}},
      {"data": {"name": "w"}, "mark": {"type": "bar", "size": 2.4},
       "encoding": {"x": {"field": "d", "type": "temporal", "title": null}, "y": {"field": "o", "type": "quantitative", "title": null}, "y2": {"field": "c"},
         "color": {"condition": {"test": "datum.c < datum.o", "value": "#d42020"}, "value": "#151515"}}},
      {"data": {"name": "tl"}, "mark": {"type": "line", "color": "#2020e8", "strokeWidth": 2, "clip": true},
       "encoding": {"x": {"field": "d", "type": "temporal", "title": null}, "y": {"field": "p", "type": "quantitative", "title": null}}},
      {"data": {"name": "ann"}, "transform": [{"filter": "datum.k == 'h'"}], "mark": {"type": "text", "baseline": "bottom", "dy": -2, "fontSize": 7, "color": "#333333"},
       "encoding": {"x": {"field": "d", "type": "temporal", "title": null}, "y": {"field": "p", "type": "quantitative", "title": null}, "text": {"field": "t"}}},
      {"data": {"name": "ann"}, "transform": [{"filter": "datum.k == 'l'"}], "mark": {"type": "text", "baseline": "top", "dy": 2, "fontSize": 7, "color": "#333333"},
       "encoding": {"x": {"field": "d", "type": "temporal", "title": null}, "y": {"field": "p", "type": "quantitative", "title": null}, "text": {"field": "t"}}},
      {"data": {"values": [{"t": "▮ $SPX (Daily) 2364.87"}]}, "mark": {"type": "text", "align": "left", "baseline": "top", "fontSize": 7, "color": "#222222", "dx": 3, "dy": 2},
       "encoding": {"x": {"datum": {"year": 2014, "month": 3, "date": 5}, "type": "temporal"}, "y": {"datum": 2434, "type": "quantitative"}, "text": {"field": "t"}}},
      {"data": {"values": [{"t": "━ MA(200) 2193.60"}]}, "mark": {"type": "text", "align": "left", "baseline": "top", "fontSize": 7, "color": "#3a3ad6", "dx": 3, "dy": 10},
       "encoding": {"x": {"datum": {"year": 2014, "month": 3, "date": 5}, "type": "temporal"}, "y": {"datum": 2434, "type": "quantitative"}, "text": {"field": "t"}}},
      {"data": {"values": [{"t": "BB(20,2.0) 2316.00 - 2358.14 - 2401.27"}]}, "mark": {"type": "text", "align": "left", "baseline": "top", "fontSize": 7, "color": "#9a9a9a", "dx": 3, "dy": 18},
       "encoding": {"x": {"datum": {"year": 2014, "month": 3, "date": 5}, "type": "temporal"}, "y": {"datum": 2434, "type": "quantitative"}, "text": {"field": "t"}}},
      {"data": {"values": [{"t": "▮ Volume 2,017,898,624"}]}, "mark": {"type": "text", "align": "left", "baseline": "top", "fontSize": 7, "color": "#222222", "dx": 3, "dy": 26},
       "encoding": {"x": {"datum": {"year": 2014, "month": 3, "date": 5}, "type": "temporal"}, "y": {"datum": 2434, "type": "quantitative"}, "text": {"field": "t"}}}
    ]}
  ],
  "resolve": {"scale": {"y": "independent"}}
},
{
  "width": 555, "height": 85,
  "layer": [
    {"data": {"name": "yr"}, "mark": {"type": "rect", "fill": "#000000", "opacity": 0.05},
     "encoding": {
       "x": {"field": "s", "type": "temporal", "title": null, "scale": {"domain": [{"year": 2014, "month": 3, "date": 5}, {"year": 2017, "month": 4, "date": 25}], "nice": false},
             "axis": {"title": null, "labels": true, "labelOverlap": false, "labelBound": false, "labelPadding": 0, "labelFontSize": 8,
                      "labelExpr": "month(datum.value) == 0 ? timeFormat(datum.value, '%y') : substring(timeFormat(datum.value, '%b'), 0, 1)",
                      "labelFontWeight": {"condition": {"test": "month(datum.value) == 0", "value": "bold"}, "value": "normal"},
                      "ticks": false, "domain": false, "grid": true, "tickCount": {"interval": "month", "step": 1}}},
       "x2": {"field": "e"}}},
    {"data": {"name": "w"}, "mark": {"type": "bar", "size": 2.6, "color": "#1d2742"},
     "encoding": {
       "x": {"field": "d", "type": "temporal", "title": null},
       "y": {"field": "hs", "type": "quantitative", "title": null, "scale": {"domain": [-53.2, 37.5], "nice": false, "zero": false},
             "axis": {"orient": "right", "values": [-50, -40, -30, -20, -10, 0, 10, 20, 30], "labelOverlap": false, "labelBound": false, "grid": true, "title": null}}}},
    {"data": {"name": "w"}, "mark": {"type": "line", "color": "#66b8b8", "strokeWidth": 1.2},
     "encoding": {"x": {"field": "d", "type": "temporal", "title": null},
       "y": {"field": "s", "type": "quantitative", "title": null, "axis": {"orient": "right", "values": [-50, -40, -30, -20, -10, 0, 10, 20, 30], "labelOverlap": false, "labelBound": false, "grid": true, "title": null}}}},
    {"data": {"name": "w"}, "mark": {"type": "line", "color": "#4f5b80", "strokeWidth": 1.4},
     "encoding": {"x": {"field": "d", "type": "temporal", "title": null},
       "y": {"field": "m", "type": "quantitative", "title": null, "axis": {"orient": "right", "values": [-50, -40, -30, -20, -10, 0, 10, 20, 30], "labelOverlap": false, "labelBound": false, "grid": true, "title": null}}}},
    {"data": {"values": [{"t": "━ MACD(12,26,9) 19.871, 22.964, -3.093"}]}, "mark": {"type": "text", "align": "left", "baseline": "top", "fontSize": 7, "color": "#333333", "dx": 3, "dy": 1},
     "encoding": {"x": {"datum": {"year": 2014, "month": 3, "date": 5}, "type": "temporal"},
       "y": {"datum": 37.5, "type": "quantitative", "axis": {"orient": "right", "values": [-50, -40, -30, -20, -10, 0, 10, 20, 30], "labelOverlap": false, "labelBound": false, "grid": true, "title": null}},
       "text": {"field": "t"}}}
  ]
}
]
}
